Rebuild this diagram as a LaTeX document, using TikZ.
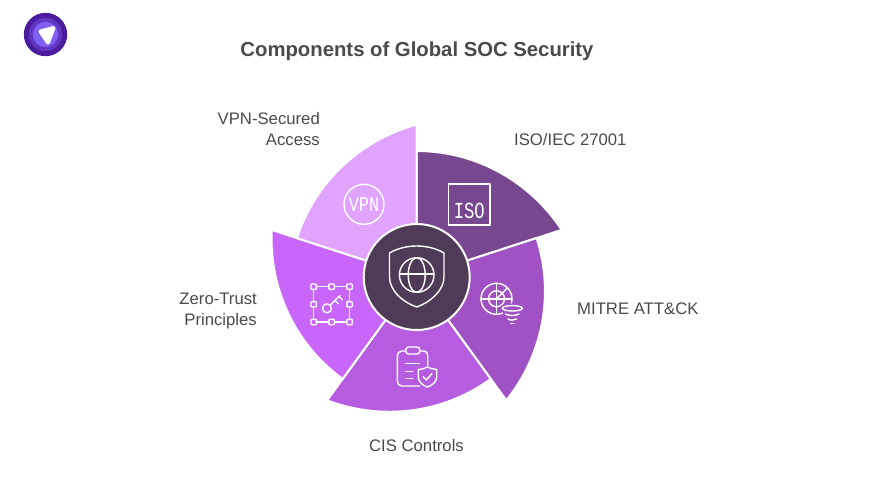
\documentclass[tikz,border=0pt]{standalone}
\usepackage{fontspec}
\setmainfont{Liberation Sans}
\newfontfamily\iconfont{Liberation Mono}

\definecolor{inkgrey}{HTML}{4A4A4A}
\definecolor{hubcol}{HTML}{4F3B57}
\definecolor{isocol}{HTML}{77488F}
\definecolor{mitrecol}{HTML}{A052C5}
\definecolor{ciscol}{HTML}{B65CE0}
\definecolor{zerocol}{HTML}{C866F9}
\definecolor{vpncol}{HTML}{E0A3FF}
\definecolor{logoa}{HTML}{4B1D9E}
\definecolor{logob}{HTML}{6136C4}
\definecolor{logoc}{HTML}{8060F0}

\tikzset{
	wedge/.style={draw=white, line width=2pt, line join=round},
	hub/.style={circle, draw=white, line width=2pt, fill=hubcol, minimum size=106pt, inner sep=0pt},
	label/.style={text=inkgrey, font=\fontsize{16.7}{21}\selectfont, inner sep=0pt},
	icon/.style={draw=white, line width=1.4pt, line join=round, line cap=round},
	icontext/.style={text=white, inner sep=0pt}
}

\begin{document}
\begin{tikzpicture}[x=1pt, y=-1pt]

	\def\cx{416.7} % Centre of the wheel
	\def\cy{277}
	\def\rin{126} % Radius at the start of a wedge
	\def\rd{26.5} % Growth up to the end of a wedge

	\useasboundingbox (0, 0) rectangle (876, 493);

	% Logo
	\fill[color=logoa] (45.5, 34.5) circle[radius=21.7];
	\fill[color=logob] (45.5, 34.5) circle[radius=16.7];
	\fill[color=logoc] (45.5, 34.5) circle[radius=12.7];
	\filldraw[draw=white, fill=white, line width=4pt, line join=round] (40.5, 31.5) -- (53.5, 28) -- (48, 42.5) -- cycle;

	\node[font=\bfseries\fontsize{20.3}{24}\selectfont, text=inkgrey, inner sep=0pt] (title) at (417, 51.5) {Components of Global SOC Security};

	% Wedges
	\foreach \i/\col in {0/isocol, 1/mitrecol, 2/ciscol, 3/zerocol, 4/vpncol} {
		\draw[wedge, fill=\col, shift={(\cx, \cy)}] (0, 0) -- plot[domain=0:1, samples=40] ({-90+72*\i+72*\x}:{\rin+\rd*\x*\x}) -- cycle;
	}

	\node[hub] (hub) at (\cx, \cy) {};

	% Hub icon
	\draw[icon] (389.5, 253) .. controls (398, 248) and (408, 246) .. (416.7, 246) .. controls (425, 246) and (436, 248) .. (444, 253) -- (444, 277) .. controls (444, 290) and (431, 302) .. (416.7, 307) .. controls (402, 302) and (389.5, 290) .. (389.5, 277) -- cycle;
	\draw[icon] (416.7, 275) circle[radius=17.3];
	\draw[icon] (416.7, 275) ellipse[x radius=8.5, y radius=17.3];
	\draw[icon] (399.4, 274) -- (434, 274);

	% ISO
	\draw[icon] (448.7, 184) rectangle (490, 225);
	\node[icontext, font=\iconfont\fontsize{23}{23}\selectfont, xscale=0.75] (isotext) at (469.3, 210.5) {ISO};

	% VPN
	\draw[icon] (364, 204.3) circle[radius=20];
	\node[icontext, font=\iconfont\fontsize{21}{21}\selectfont, xscale=0.8] (vpntext) at (364, 204.3) {VPN};

	% Radar and funnel
	\draw[icon] (496.5, 298.8) circle[radius=15.5];
	\draw[icon] (496.5, 298.8) circle[radius=8];
	\draw[icon] (496.5, 283.3) -- (496.5, 314.3);
	\draw[icon] (481, 298.8) -- (512, 298.8);
	\draw[icon] (496.5, 298.8) -- (507.5, 287.8);
	\fill[color=mitrecol] (512.3, 308.3) ellipse[x radius=13, y radius=5];
	\fill[color=mitrecol] (501, 309) -- (523, 309) -- (514, 327) -- (510, 327) -- cycle;
	\draw[icon] (512.3, 308.3) ellipse[x radius=10, y radius=2.7];
	\draw[icon] (505.5, 314) .. controls (509, 316) and (515, 316) .. (519, 314);
	\draw[icon] (508, 319) .. controls (510, 320.5) and (514, 320.5) .. (516.5, 319);
	\draw[icon] (510.5, 323.5) -- (514, 323.5);

	% Clipboard
	\draw[icon] (405.7, 351) -- (402, 351) .. controls (399, 351) and (397.3, 353) .. (397.3, 356) -- (397.3, 381) .. controls (397.3, 384) and (399, 386) .. (402, 386) -- (420, 386);
	\draw[icon] (420, 351) -- (424, 351) .. controls (426.5, 351) and (427.7, 353) .. (427.7, 356) -- (427.7, 366);
	\draw[icon, rounded corners=3pt] (405.7, 347) rectangle (420, 354);
	\draw[icon] (405.7, 363.3) -- (419.3, 363.3);
	\draw[icon] (405.7, 371.7) -- (412.7, 371.7);
	\draw[icon] (405.7, 378.3) -- (412.7, 378.3);
	\draw[icon, fill=ciscol] (418.3, 369.5) .. controls (423, 369) and (426, 368) .. (427.3, 367) .. controls (429, 368) and (433, 369) .. (436.7, 369.5) -- (436.7, 377) .. controls (436.7, 382) and (432, 385.5) .. (427.3, 387) .. controls (423, 385.5) and (418.3, 382) .. (418.3, 377) -- cycle;
	\draw[icon] (423, 376.5) -- (426.3, 380) -- (432, 373.5);

	% Key in its frame
	\draw[icon] (313.7, 286.7) rectangle (349.5, 322);
	\foreach \px/\py in {313.7/286.7, 331.6/286.7, 349.5/286.7, 313.7/304.3, 349.5/304.3, 313.7/322, 331.6/322, 349.5/322} {
		\draw[icon, fill=zerocol, rounded corners=0.8pt] (\px-2.7, \py-2.7) rectangle (\px+2.7, \py+2.7);
	}
	\draw[icon] (327, 308.3) circle[radius=4.5];
	\draw[icon] (330.3, 305) -- (340, 295.5);
	\draw[icon] (335, 300.5) -- (338.5, 304);
	\draw[icon] (339, 296.5) -- (342.5, 300);

	% Labels
	\node[label, anchor=east, align=right] (vpnlabel) at (320, 129.5) {VPN-Secured\\Access};
	\node[label, anchor=west] (isolabel) at (514, 140) {ISO/IEC 27001};
	\node[label, anchor=west] (mitrelabel) at (577, 309) {MITRE ATT\&CK};
	\node[label] (cislabel) at (416.5, 446) {CIS Controls};
	\node[label, anchor=east, align=right] (zerolabel) at (257, 310.5) {Zero-Trust\\Principles};

\end{tikzpicture}
\end{document}
